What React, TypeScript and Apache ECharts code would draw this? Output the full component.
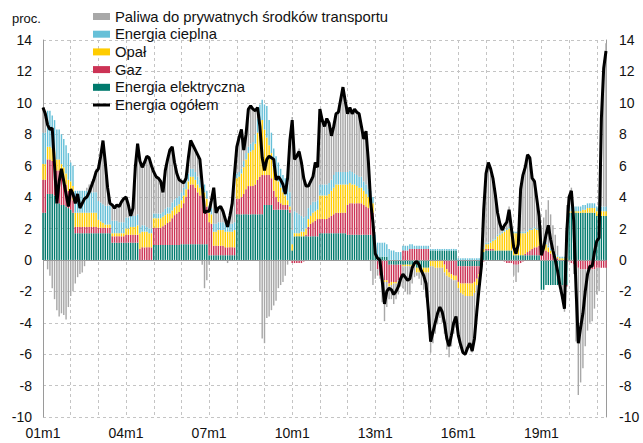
import React, { useEffect, useRef } from 'react';
import * as echarts from 'echarts';

const FONT = "'Liberation Sans', Arial, Helvetica, sans-serif";
const START_YEAR = 2001;
const MONTH_COUNT = 245; // 2001m1 .. 2021m5

const NAME_FUEL = 'Paliwa do prywatnych środków transportu';
const NAME_HEAT = 'Energia cieplna';
const NAME_COAL = 'Opał';
const NAME_GAS = 'Gaz';
const NAME_ELEC = 'Energia elektryczna';
const NAME_TOTAL = 'Energia ogółem';

// tick labels: "01m1", "01m2", ...
const categories: string[] = [];
for (let i = 0; i < MONTH_COUNT; i++) {
  const yy = String((START_YEAR + Math.floor(i / 12)) % 100).padStart(2, '0');
  categories.push(`${yy}m${(i % 12) + 1}`);
}

// Energia elektryczna (contribution, pp)
const electricity = [
  3.0, 3.0, 4.2, 4.2, 4.2, 4.1, 3.6, 3.6, 3.5, 3.5, 3.4, 3.3,
  3.2, 3.0, 1.7, 1.7, 1.7, 1.7, 1.7, 1.7, 1.7, 1.7, 1.7, 1.7,
  1.7, 1.7, 1.7, 1.7, 1.7, 1.7, 1.1, 1.1, 1.1, 1.1, 1.1, 1.1,
  1.1, 1.1, 1.1, 1.1, 1.1, 1.1, 0.0, 0.0, 0.0, 0.0, 0.0, 0.0,
  0.95, 0.95, 0.95, 0.95, 0.95, 0.95, 0.95, 0.95, 0.95, 0.95, 0.95, 0.95,
  1.0, 1.0, 1.0, 1.0, 1.0, 1.0, 1.0, 1.0, 1.0, 1.0, 1.0, 1.0,
  0.3, 0.3, 0.3, 0.3, 0.3, 0.3, 0.3, 0.3, 0.3, 0.3, 0.3, 0.3,
  2.9, 2.9, 2.9, 2.9, 2.9, 2.9, 2.9, 2.9, 2.9, 2.9, 2.9, 2.9,
  3.5, 3.5, 3.5, 3.5, 3.2, 3.2, 3.2, 3.2, 3.2, 3.2, 3.2, 3.0,
  0.6, 1.5, 1.5, 1.5, 1.5, 1.5, 1.5, 1.5, 1.5, 1.5, 1.5, 1.5,
  1.7, 1.7, 1.7, 1.7, 1.7, 1.7, 1.7, 1.7, 1.7, 1.7, 1.7, 1.7,
  1.6, 1.6, 1.6, 1.6, 1.6, 1.6, 1.6, 1.6, 1.6, 1.6, 1.6, 1.5,
  0.3, 0.2, 0.2, 0.2, 0.2, 0.2, -0.3, -0.3, -0.3, -0.3, -0.3, -0.3,
  -0.3, -0.3, -0.3, -0.3, -0.3, -0.3, -0.5, -0.5, -0.5, -0.5, -0.5, -0.5,
  0.6, 0.6, 0.6, 0.6, 0.6, 0.6, 0.6, 0.6, 0.6, 0.6, 0.6, 0.6,
  -0.4, -0.4, -0.4, -0.4, -0.4, -0.4, -0.4, -0.4, -0.4, -0.4, -0.1, 0.5,
  0.6, 0.6, 0.6, 0.6, 0.6, 0.6, 0.6, 0.6, 0.6, 0.6, 0.6, 0.6,
  0.3, 0.3, 0.3, 0.3, 0.3, 0.3, 0.3, 0.3, 0.3, 0.3, 0.3, 0.3,
  -1.9, -1.9, -1.6, -1.6, -1.6, -1.6, -1.6, -1.6, -1.6, -1.6, -1.6, -1.6,
  3.0, 3.0, 3.0, 3.0, 3.0, 3.0, 3.0, 3.0, 3.0, 3.0, 3.0, 3.0,
  2.8, 2.8, 2.8, 2.8, 2.8,
];

// Gaz
const gas = [
  2.1, 2.1, 2.2, 2.2, 2.1, 2.1, 2.1, 2.1, 1.9, 1.7, 1.4, 1.1,
  1.0, 0.8, 0.4, 0.4, 0.4, 0.4, 0.4, 0.4, 0.4, 0.4, 0.4, 0.4,
  0.35, 0.35, 0.35, 0.35, 0.35, 0.35, 0.4, 0.4, 0.4, 0.4, 0.4, 0.4,
  0.5, 0.5, 0.5, 0.5, 0.5, 0.5, 0.7, 0.8, 0.8, 0.8, 0.8, 0.8,
  1.1, 1.1, 1.1, 1.1, 1.2, 1.3, 1.4, 1.5, 1.7, 1.9, 2.0, 2.1,
  2.3, 2.6, 3.0, 3.5, 3.8, 3.8, 3.6, 3.3, 3.1, 3.1, 2.8, 2.4,
  2.1, 2.0, 0.6, 0.6, 0.6, 0.6, 0.6, 0.5, 0.5, 0.5, 0.5, 0.5,
  1.0, 1.0, 1.1, 1.3, 1.6, 1.8, 1.8, 1.8, 1.9, 2.2, 2.4, 2.5,
  1.9, 1.9, 1.9, 1.7, 1.2, 0.8, 0.5, 0.4, 0.3, 0.3, 0.3, 0.2,
  -0.2, -0.2, -0.2, -0.2, -0.2, -0.1, 0.1, 0.6, 0.8, 0.9, 1.0, 1.1,
  0.9, 0.9, 0.9, 0.9, 1.0, 1.1, 1.2, 1.3, 1.3, 1.3, 1.3, 1.3,
  1.9, 2.0, 2.0, 2.0, 2.0, 2.0, 2.0, 1.9, 1.8, 1.7, 1.6, 1.5,
  0.5, -0.6, -1.0, -1.2, -1.3, -1.3, -1.2, -1.1, -1.1, -1.1, -1.0, -1.0,
  0.6, 0.6, 0.6, 0.7, 0.7, 0.7, 0.7, 0.7, 0.7, 0.7, 0.7, 0.7,
  0.0, 0.0, 0.0, 0.0, 0.0, 0.0, -0.3, -0.6, -0.8, -0.9, -1.0, -1.0,
  -1.0, -1.1, -1.1, -1.1, -1.1, -1.1, -1.1, -1.0, -0.8, -0.5, -0.3, -0.1,
  0.1, 0.1, 0.1, 0.1, 0.0, 0.0, 0.0, 0.0, -0.1, -0.2, -0.2, -0.2,
  -0.3, -0.3, -0.3, -0.2, -0.1, 0.1, 0.2, 0.3, 0.4, 0.5, 0.5, 0.6,
  0.6, 0.6, 0.6, 0.5, 0.4, 0.3, 0.2, 0.1, 0.0, 0.0, -0.1, -0.1,
  -0.1, -0.2, -0.3, -0.4, -0.5, -0.6, -0.6, -0.6, -0.6, -0.6, -0.6, -0.6,
  -0.5, -0.5, -0.5, -0.5, -0.5,
];

// Opał
const coal = [
  1.0, 1.0, 0.8, 0.8, 0.8, 0.7, 0.7, 0.7, 0.7, 0.7, 0.7, 0.7,
  0.8, 0.9, 0.9, 0.9, 0.9, 0.9, 0.9, 0.9, 0.9, 0.9, 0.9, 0.9,
  0.5, 0.4, 0.3, 0.2, 0.2, 0.2, 0.2, 0.2, 0.2, 0.2, 0.2, 0.2,
  0.4, 0.4, 0.5, 0.5, 0.5, 0.6, 1.0, 1.0, 1.0, 1.0, 0.9, 0.9,
  0.6, 0.6, 0.6, 0.6, 0.6, 0.6, 0.6, 0.5, 0.5, 0.5, 0.5, 0.5,
  0.5, 0.5, 0.5, 0.5, 0.5, 0.5, 0.5, 0.5, 0.5, 0.5, 0.5, 0.5,
  0.6, 0.6, 0.9, 0.9, 1.0, 1.0, 1.0, 1.0, 1.0, 1.0, 1.0, 1.1,
  1.3, 1.4, 1.5, 1.7, 1.9, 2.1, 2.2, 2.3, 2.6, 3.0, 3.4, 3.5,
  2.9, 2.4, 1.9, 1.6, 1.7, 1.5, 1.3, 1.0, 0.8, 0.6, 0.3, 0.2,
  0.4, 0.2, 0.2, 0.2, 0.3, 0.3, 0.4, 0.5, 0.5, 0.6, 0.6, 0.6,
  1.5, 1.5, 1.5, 1.5, 1.5, 1.6, 1.7, 1.8, 1.8, 1.8, 1.8, 1.8,
  1.3, 1.3, 1.2, 1.2, 1.1, 1.0, 1.0, 0.9, 0.8, 0.7, 0.7, 0.6,
  0.1, 0.0, 0.0, -0.1, -0.1, -0.1, -0.2, -0.2, -0.1, -0.1, 0.0, 0.0,
  -0.1, -0.1, -0.1, -0.1, -0.1, -0.1, -0.3, -0.3, -0.3, -0.3, -0.3, -0.3,
  -0.4, -0.4, -0.5, -0.5, -0.5, -0.5, -0.5, -0.4, -0.3, -0.3, -0.3, -0.3,
  -0.4, -0.6, -0.7, -0.8, -0.8, -0.8, -0.8, -0.7, -0.4, -0.2, 0.1, 0.2,
  0.3, 0.3, 0.4, 0.5, 0.7, 0.9, 1.0, 1.1, 1.2, 1.3, 1.4, 1.4,
  1.4, 1.4, 1.4, 1.4, 1.4, 1.3, 1.3, 1.3, 1.2, 1.2, 1.1, 1.0,
  0.7, 0.5, 0.4, 0.3, 0.2, 0.2, 0.1, 0.1, 0.1, 0.1, 0.1, 0.1,
  0.1, 0.1, 0.1, 0.1, 0.1, 0.1, 0.2, 0.2, 0.3, 0.3, 0.3, 0.3,
  0.3, 0.3, 0.3, 0.3, 0.3,
];

// Energia cieplna
const heat = [
  2.0, 2.0, 2.3, 2.3, 2.1, 2.0, 1.9, 1.9, 1.9, 1.8, 1.8, 1.7,
  1.2, 1.3, 1.4, 1.4, 1.4, 1.4, 1.4, 1.4, 1.4, 1.3, 1.3, 1.3,
  1.2, 1.2, 1.2, 1.2, 1.2, 1.2, 0.8, 0.8, 0.8, 0.7, 0.7, 0.7,
  0.7, 0.7, 0.7, 0.7, 0.7, 0.7, 0.4, 0.4, 0.4, 0.3, 0.3, 0.3,
  0.3, 0.3, 0.3, 0.3, 0.3, 0.4, 0.4, 0.4, 0.5, 0.5, 0.5, 0.5,
  0.5, 0.5, 0.5, 0.5, 0.5, 0.5, 0.5, 0.5, 0.5, 0.5, 0.5, 0.5,
  0.4, 0.4, 0.5, 0.5, 0.5, 0.5, 0.5, 0.5, 0.5, 0.5, 0.5, 0.5,
  0.3, 0.3, 0.3, 0.4, 0.4, 0.4, 0.5, 0.5, 0.6, 0.9, 1.2, 1.3,
  1.6, 2.0, 1.6, 1.3, 1.0, 1.1, 1.2, 1.2, 1.1, 1.1, 1.1, 0.9,
  0.9, 1.4, 1.3, 1.2, 1.0, 0.9, 0.8, 0.7, 0.7, 0.7, 0.6, 0.6,
  0.7, 0.7, 0.7, 0.7, 0.7, 0.7, 0.8, 0.8, 0.8, 0.8, 0.8, 0.8,
  0.8, 0.8, 0.8, 0.7, 0.7, 0.7, 0.7, 0.6, 0.6, 0.5, 0.5, 0.4,
  0.7, 0.9, 0.9, 0.9, 0.9, 0.8, 0.7, 0.6, 0.6, 0.5, 0.5, 0.5,
  0.3, 0.3, 0.3, 0.3, 0.3, 0.2, 0.2, 0.2, 0.2, 0.2, 0.2, 0.2,
  0.1, 0.1, 0.1, 0.1, 0.1, 0.1, 0.1, 0.1, 0.1, 0.1, 0.1, 0.1,
  0.1, 0.1, 0.1, 0.1, 0.1, 0.1, 0.1, 0.1, 0.1, 0.1, 0.1, 0.1,
  0.1, 0.1, 0.1, 0.1, 0.1, 0.1, 0.1, 0.1, 0.1, 0.1, 0.1, 0.1,
  0.1, 0.1, 0.1, 0.1, 0.1, 0.1, 0.1, 0.1, 0.1, 0.1, 0.1, 0.1,
  0.1, 0.1, 0.1, 0.1, 0.1, 0.1, 0.1, 0.1, 0.1, 0.1, 0.1, 0.1,
  0.3, 0.3, 0.3, 0.3, 0.3, 0.3, 0.3, 0.3, 0.3, 0.3, 0.3, 0.3,
  0.3, 0.3, 0.3, 0.3, 0.3,
];

// Paliwa do prywatnych środków transportu
const fuels = [
  1.6, 1.0, -0.6, -1.0, -1.8, -2.5, -3.2, -3.6, -3.4, -3.5, -3.8, -3.0,
  -2.3, -2.0, -1.5, -1.1, -0.9, -0.8, -0.4, 0.2, 0.4, 0.7, 1.0, 1.5,
  2.0, 2.9, 4.0, 2.7, 1.1, 0.2, 1.0, 0.8, 1.0, 1.0, 1.3, 1.5,
  1.3, 0.8, 0.0, 0.5, 3.1, 4.5, 4.2, 3.7, 4.0, 4.5, 4.5, 4.0,
  2.6, 2.4, 2.2, 2.0, 1.2, 2.4, 3.0, 3.6, 3.5, 2.4, 1.5, 1.0,
  0.7, 0.3, 0.2, 1.0, 1.8, 1.5, 1.4, 1.4, 1.3, -0.3, -1.8, -1.3,
  -0.3, 0.5, 2.3, 0.7, 0.9, 1.0, 0.7, 0.3, -0.2, 0.5, 1.3, 3.1,
  1.7, 2.2, 2.5, 0.7, 1.2, 2.4, 2.4, 2.1, 1.5, 0.7, -2.0, -5.0,
  -5.3, -3.7, -3.6, -3.2, -2.9, -2.6, -1.8, -1.6, -1.4, -1.0, -0.3, 3.3,
  7.2, 3.5, 3.8, 4.2, 3.6, 2.6, 1.9, 1.4, 1.5, 1.6, 2.5, 2.1,
  4.8, 4.1, 3.7, 4.2, 3.8, 2.8, 3.1, 3.7, 3.8, 4.6, 5.4, 4.5,
  3.7, 4.0, 3.7, 4.1, 4.0, 4.0, 3.2, 2.7, 3.4, 1.8, -0.7, -1.6,
  -1.2, -0.4, -0.2, -1.4, -2.5, -1.6, -0.8, -0.9, -1.3, -1.0, -0.9, -0.4,
  -1.4, -1.6, -1.8, -1.8, -1.1, -0.7, -0.2, -0.4, -0.8, -1.1, -1.6, -3.3,
  -5.5, -4.9, -4.2, -3.6, -3.2, -3.5, -3.9, -4.7, -5.1, -4.3, -3.4, -3.0,
  -3.1, -3.4, -3.8, -3.8, -3.4, -3.1, -3.6, -3.0, -1.8, -0.8, -0.2, 2.5,
  4.4, 5.1, 4.6, 3.9, 2.8, 1.4, 0.6, 0.1, 0.4, 0.6, 1.3, 0.1,
  -0.7, -1.1, -0.5, 2.9, 3.7, 4.1, 4.8, 4.5, 3.2, 2.9, 1.9, 0.8,
  0.8, 1.5, 2.1, 2.9, 2.2, 1.6, 1.2, 0.6, -0.2, -0.9, -1.6, 3.3,
  0.7, 1.2, -0.6, -4.8, -8.1, -7.2, -6.3, -4.9, -3.9, -3.4, -3.3, -2.5,
  -1.7, -1.5, 6.1, 9.3, 10.4,
];

// Energia ogółem (y/y, %)
const total = [
  9.7, 9.3, 8.6, 8.3, 8.4, 6.0, 3.6, 5.0, 5.8, 5.0, 4.2, 3.4,
  4.5, 4.2, 3.6, 4.2, 3.3, 3.6, 3.9, 4.0, 4.3, 4.7, 5.1, 5.6,
  5.8, 6.6, 7.6, 6.2, 4.6, 3.6, 3.5, 3.3, 3.5, 3.4, 3.7, 3.9,
  4.0, 3.5, 2.8, 3.3, 5.9, 7.4, 6.3, 5.9, 6.2, 6.6, 6.5, 6.0,
  5.6, 5.3, 5.2, 5.0, 4.3, 5.7, 6.4, 7.0, 7.2, 6.2, 5.5, 5.1,
  5.0, 4.9, 5.2, 6.5, 7.6, 7.3, 7.0, 6.7, 6.4, 4.8, 3.0, 3.1,
  3.1, 3.8, 4.6, 3.0, 3.3, 3.4, 3.1, 2.6, 2.1, 2.8, 3.6, 5.5,
  7.2, 7.8, 8.3, 7.0, 8.0, 9.6, 9.8, 9.6, 9.5, 9.7, 8.5, 6.5,
  5.7, 6.4, 6.6, 6.5, 6.4, 5.1, 5.3, 5.1, 4.8, 4.2, 5.2, 7.6,
  8.9, 6.4, 6.6, 6.9, 6.2, 5.2, 4.7, 4.7, 5.0, 5.3, 6.2, 5.9,
  9.6, 8.9, 8.5, 9.0, 8.7, 7.9, 8.5, 9.3, 9.4, 10.2, 11.0, 10.1,
  9.3, 9.7, 9.3, 9.6, 9.4, 9.3, 8.5, 7.7, 8.2, 6.3, 3.7, 2.4,
  0.4, 0.1, 0.0, -1.3, -2.8, -2.0, -1.8, -1.9, -2.2, -2.0, -1.7, -1.2,
  -0.9, -1.1, -1.3, -1.2, -0.5, -0.2, -0.1, -0.3, -0.7, -1.0, -1.5, -3.2,
  -5.2, -4.6, -4.0, -3.4, -3.0, -3.3, -4.0, -5.0, -5.5, -4.8, -4.0, -3.6,
  -4.8, -5.4, -5.9, -6.0, -5.6, -5.3, -5.8, -5.0, -3.3, -1.8, -0.4, 3.2,
  5.5, 6.2, 5.8, 5.2, 4.2, 3.0, 2.3, 1.9, 2.2, 2.4, 3.2, 2.0,
  0.8, 0.4, 1.0, 4.5, 5.4, 5.9, 6.7, 6.5, 5.2, 5.0, 3.9, 2.8,
  0.3, 0.8, 1.6, 2.2, 1.3, 0.6, 0.0, -0.7, -1.6, -2.3, -3.1, 1.8,
  4.0, 4.4, 2.5, -1.8, -5.3, -4.3, -3.4, -2.0, -0.9, -0.4, -0.4, 0.5,
  1.2, 1.4, 9.0, 12.2, 13.3,
];

const Y_MIN = -10;
const Y_MAX = 14;
const Y_STEP = 2;

const COLORS = {
  fuel: '#a8a8a8',
  heat: '#66c0d8',
  coal: '#ffcc00',
  gas: '#cc3355',
  elec: '#007a6d',
  total: '#000000',
};

const gridDash = { color: '#c4c4c4', type: [3, 3] as number[], width: 1 };

export default function App() {
  const ref = useRef<HTMLDivElement>(null);

  useEffect(() => {
    if (!ref.current) return;
    const chart = echarts.init(ref.current, null, { renderer: 'svg' });

    const barBase = {
      type: 'bar' as const,
      stack: 'energy',
      barCategoryGap: '38%',
      silent: true,
    };

    const yAxisCommon = {
      type: 'value' as const,
      min: Y_MIN,
      max: Y_MAX,
      interval: Y_STEP,
      axisLine: { show: true, lineStyle: { color: '#9a9a9a', width: 1 } },
      axisTick: { show: false },
      axisLabel: { fontSize: 14, color: '#111', fontFamily: FONT },
    };

    chart.setOption({
      animation: false,
      textStyle: { fontFamily: FONT },
      grid: { left: 43, right: 37, top: 40, bottom: 26, containLabel: false },
      legend: {
        orient: 'vertical',
        left: 93,
        top: 9,
        padding: 0,
        itemWidth: 17,
        itemHeight: 7,
        itemGap: 2.7,
        symbolKeepAspect: true,
        textStyle: { fontSize: 14.8, color: '#111', fontFamily: FONT, lineHeight: 15 },
        data: [
          { name: NAME_FUEL, icon: 'rect' },
          { name: NAME_HEAT, icon: 'rect' },
          { name: NAME_COAL, icon: 'rect' },
          { name: NAME_GAS, icon: 'rect' },
          { name: NAME_ELEC, icon: 'rect' },
          { name: NAME_TOTAL, icon: 'path://M0,0H17V3H0Z' },
        ],
      },
      graphic: [
        {
          type: 'text',
          left: 12,
          top: 12,
          style: { text: 'proc.', fontSize: 13, fill: '#111', fontFamily: FONT },
        },
      ],
      xAxis: {
        type: 'category',
        data: categories,
        boundaryGap: false,
        axisLine: { show: false },
        axisTick: { show: false },
        axisLabel: {
          interval: 35,
          fontSize: 14,
          color: '#111',
          margin: 9,
          fontFamily: FONT,
        },
        splitLine: { show: true, interval: 11, lineStyle: gridDash },
      },
      yAxis: [
        {
          ...yAxisCommon,
          position: 'left',
          axisLabel: { ...yAxisCommon.axisLabel, margin: 11 },
          splitLine: { show: true, lineStyle: gridDash },
        },
        {
          ...yAxisCommon,
          position: 'right',
          axisLabel: { ...yAxisCommon.axisLabel, margin: 13 },
          splitLine: { show: false },
        },
      ],
      series: [
        {
          ...barBase,
          name: NAME_ELEC,
          data: electricity,
          itemStyle: { color: COLORS.elec },
          markLine: {
            silent: true,
            symbol: 'none',
            label: { show: false },
            lineStyle: { color: '#9a9a9a', type: 'solid', width: 1 },
            data: [{ yAxis: 0 }],
          },
        },
        { ...barBase, name: NAME_GAS, data: gas, itemStyle: { color: COLORS.gas } },
        { ...barBase, name: NAME_COAL, data: coal, itemStyle: { color: COLORS.coal } },
        { ...barBase, name: NAME_HEAT, data: heat, itemStyle: { color: COLORS.heat } },
        { ...barBase, name: NAME_FUEL, data: fuels, itemStyle: { color: COLORS.fuel } },
        {
          type: 'line',
          name: NAME_TOTAL,
          data: total,
          symbol: 'none',
          showSymbol: false,
          z: 10,
          silent: true,
          lineStyle: { color: COLORS.total, width: 3 },
          itemStyle: { color: COLORS.total },
        },
      ],
    });

    return () => chart.dispose();
  }, []);

  return (
    <div
      ref={ref}
      style={{ position: 'absolute', left: 0, top: 0, width: 643, height: 443, background: '#fff' }}
    />
  );
}
